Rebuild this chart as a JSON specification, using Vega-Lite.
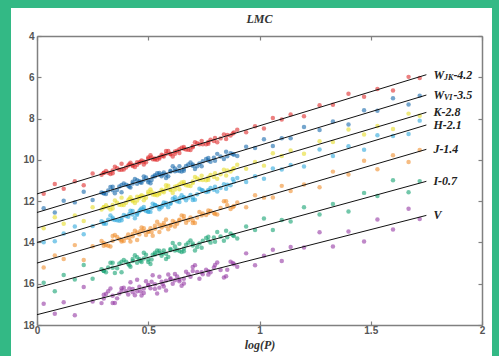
{
"$schema":"https://vega.github.io/schema/vega-lite/v6.json",
"width":481,"height":348,
"autosize":{"type":"none"},
"padding":{"left":11,"top":8,"right":7,"bottom":0},
"background":"#33b985",
"config":{"view":{"fill":"white","stroke":null},
"axis":{"grid":false,"tickSize":-4,"tickColor":"#808080","tickWidth":1.2,"domainColor":"#808080","domainWidth":1.5,"labelFont":"Liberation Sans","labelFontWeight":"bold","labelFontSize":10,"labelColor":"#555555","labelFlush":false,"labelOverlap":false}},
"title":{"text":"LMC","font":"Liberation Serif","fontStyle":"italic","fontWeight":"bold","fontSize":12,"color":"#333333","anchor":"middle","offset":0,"dy":27,"dx":8,"baseline":"alphabetic"},
"datasets":{
"lines":[{"b":"WJK","x":0,"y":11.65},{"b":"WJK","x":1.75,"y":5.875},{"b":"WVI","x":0,"y":12.55},{"b":"WVI","x":1.75,"y":6.86},{"b":"K","x":0,"y":13.3},{"b":"K","x":1.75,"y":7.7},{"b":"H","x":0,"y":14.0},{"b":"H","x":1.75,"y":8.31},{"b":"J","x":0,"y":15.0},{"b":"J","x":1.75,"y":9.49},{"b":"I","x":0,"y":16.2},{"b":"I","x":1.75,"y":11.04},{"b":"V","x":0,"y":17.5},{"b":"V","x":1.75,"y":12.69}],
"labels":[{"b":"WJK","x":1.75,"y":5.875,"t":"W","s":"JK","r":"-4.2"},{"b":"WVI","x":1.75,"y":6.86,"t":"W","s":"VI","r":"-3.5"},{"b":"K","x":1.75,"y":7.7,"t":"K-2.8","s":"","r":""},{"b":"H","x":1.75,"y":8.31,"t":"H-2.1","s":"","r":""},{"b":"J","x":1.75,"y":9.49,"t":"J-1.4","s":"","r":""},{"b":"I","x":1.75,"y":11.04,"t":"I-0.7","s":"","r":""},{"b":"V","x":1.75,"y":12.69,"t":"V","s":"","r":""}],
"pts":[
{"b":"WJK","x":0.03,"y":11.64},{"b":"WJK","x":0.08,"y":11.17},{"b":"WJK","x":0.12,"y":11.40},{"b":"WJK","x":0.17,"y":11.04},{"b":"WJK","x":0.21,"y":11.23},{"b":"WJK","x":0.25,"y":10.66},{"b":"WJK","x":0.29,"y":10.72},{"b":"WJK","x":0.31,"y":10.54},{"b":"WJK","x":0.33,"y":10.69},{"b":"WJK","x":0.35,"y":10.33},{"b":"WJK","x":0.37,"y":10.48},{"b":"WJK","x":0.39,"y":10.47},{"b":"WJK","x":0.41,"y":10.27},{"b":"WJK","x":0.42,"y":10.14},{"b":"WJK","x":0.44,"y":10.35},{"b":"WJK","x":0.46,"y":10.14},{"b":"WJK","x":0.47,"y":10.03},{"b":"WJK","x":0.49,"y":10.12},{"b":"WJK","x":0.51,"y":9.78},{"b":"WJK","x":0.52,"y":9.97},{"b":"WJK","x":0.54,"y":9.99},{"b":"WJK","x":0.56,"y":9.75},{"b":"WJK","x":0.57,"y":9.84},{"b":"WJK","x":0.59,"y":9.57},{"b":"WJK","x":0.61,"y":9.84},{"b":"WJK","x":0.63,"y":9.56},{"b":"WJK","x":0.65,"y":9.41},{"b":"WJK","x":0.67,"y":9.50},{"b":"WJK","x":0.69,"y":9.52},{"b":"WJK","x":0.71,"y":9.15},{"b":"WJK","x":0.73,"y":9.24},{"b":"WJK","x":0.76,"y":9.24},{"b":"WJK","x":0.78,"y":9.02},{"b":"WJK","x":0.81,"y":9.15},{"b":"WJK","x":0.84,"y":8.77},{"b":"WJK","x":0.87,"y":8.82},{"b":"WJK","x":0.90,"y":8.54},{"b":"WJK","x":0.94,"y":8.66},{"b":"WJK","x":0.98,"y":8.37},{"b":"WJK","x":1.02,"y":8.48},{"b":"WJK","x":1.06,"y":7.97},{"b":"WJK","x":1.10,"y":8.04},{"b":"WJK","x":1.14,"y":7.80},{"b":"WJK","x":1.20,"y":7.89},{"b":"WJK","x":1.27,"y":7.35},{"b":"WJK","x":1.33,"y":7.33},{"b":"WJK","x":1.40,"y":6.80},{"b":"WJK","x":1.47,"y":6.94},{"b":"WJK","x":1.53,"y":6.57},{"b":"WJK","x":1.60,"y":6.64},{"b":"WJK","x":1.67,"y":5.98},{"b":"WJK","x":1.72,"y":6.03},{"b":"WJK","x":0.30,"y":10.62},{"b":"WJK","x":0.34,"y":10.65},{"b":"WJK","x":0.38,"y":10.19},{"b":"WJK","x":0.43,"y":10.30},{"b":"WJK","x":0.45,"y":10.11},{"b":"WJK","x":0.48,"y":10.22},{"b":"WJK","x":0.50,"y":9.88},{"b":"WJK","x":0.53,"y":9.93},{"b":"WJK","x":0.55,"y":9.93},{"b":"WJK","x":0.58,"y":9.57},{"b":"WJK","x":0.60,"y":9.73},{"b":"WJK","x":0.62,"y":9.59},{"b":"WJK","x":0.64,"y":9.67},{"b":"WJK","x":0.66,"y":9.38},{"b":"WJK","x":0.70,"y":9.39},{"b":"WJK","x":0.74,"y":9.08},{"b":"WJK","x":0.77,"y":9.22},{"b":"WJK","x":0.80,"y":8.94},{"b":"WJK","x":0.85,"y":8.99},{"b":"WJK","x":0.88,"y":8.72},
{"b":"WJK","x":0.30,"y":10.63},{"b":"WJK","x":0.32,"y":10.62},{"b":"WJK","x":0.34,"y":10.51},{"b":"WJK","x":0.36,"y":10.41},{"b":"WJK","x":0.38,"y":10.48},{"b":"WJK","x":0.40,"y":10.37},{"b":"WJK","x":0.415,"y":10.21},{"b":"WJK","x":0.43,"y":10.25},{"b":"WJK","x":0.45,"y":10.24},{"b":"WJK","x":0.465,"y":10.09},{"b":"WJK","x":0.48,"y":10.08},{"b":"WJK","x":0.50,"y":9.95},{"b":"WJK","x":0.515,"y":9.88},{"b":"WJK","x":0.53,"y":9.98},{"b":"WJK","x":0.55,"y":9.87},{"b":"WJK","x":0.565,"y":9.80},{"b":"WJK","x":0.58,"y":9.71},{"b":"WJK","x":0.60,"y":9.70},{"b":"WJK","x":0.62,"y":9.70},{"b":"WJK","x":0.64,"y":9.49},{"b":"WJK","x":0.66,"y":9.46},{"b":"WJK","x":0.68,"y":9.51},{"b":"WJK","x":0.70,"y":9.34},{"b":"WJK","x":0.72,"y":9.20},{"b":"WJK","x":0.745,"y":9.24},{"b":"WJK","x":0.77,"y":9.13},{"b":"WJK","x":0.795,"y":9.09},{"b":"WJK","x":0.825,"y":8.96},{"b":"WJK","x":0.855,"y":8.80},{"b":"WJK","x":0.885,"y":8.68},
{"b":"WVI","x":0.03,"y":12.34},{"b":"WVI","x":0.08,"y":12.55},{"b":"WVI","x":0.12,"y":11.98},{"b":"WVI","x":0.17,"y":12.06},{"b":"WVI","x":0.21,"y":11.54},{"b":"WVI","x":0.25,"y":11.94},{"b":"WVI","x":0.29,"y":11.58},{"b":"WVI","x":0.31,"y":11.65},{"b":"WVI","x":0.33,"y":11.31},{"b":"WVI","x":0.35,"y":11.62},{"b":"WVI","x":0.37,"y":11.29},{"b":"WVI","x":0.39,"y":11.15},{"b":"WVI","x":0.41,"y":11.25},{"b":"WVI","x":0.42,"y":11.34},{"b":"WVI","x":0.44,"y":10.93},{"b":"WVI","x":0.46,"y":11.04},{"b":"WVI","x":0.47,"y":11.11},{"b":"WVI","x":0.49,"y":10.85},{"b":"WVI","x":0.51,"y":11.13},{"b":"WVI","x":0.52,"y":10.82},{"b":"WVI","x":0.54,"y":10.65},{"b":"WVI","x":0.56,"y":10.79},{"b":"WVI","x":0.57,"y":10.61},{"b":"WVI","x":0.59,"y":10.80},{"b":"WVI","x":0.61,"y":10.31},{"b":"WVI","x":0.63,"y":10.52},{"b":"WVI","x":0.65,"y":10.56},{"b":"WVI","x":0.67,"y":10.30},{"b":"WVI","x":0.69,"y":10.13},{"b":"WVI","x":0.71,"y":10.44},{"b":"WVI","x":0.73,"y":10.18},{"b":"WVI","x":0.76,"y":9.96},{"b":"WVI","x":0.78,"y":10.09},{"b":"WVI","x":0.81,"y":9.71},{"b":"WVI","x":0.84,"y":9.96},{"b":"WVI","x":0.87,"y":9.68},{"b":"WVI","x":0.90,"y":9.81},{"b":"WVI","x":0.94,"y":9.36},{"b":"WVI","x":0.98,"y":9.43},{"b":"WVI","x":1.02,"y":9.00},{"b":"WVI","x":1.06,"y":9.33},{"b":"WVI","x":1.10,"y":8.95},{"b":"WVI","x":1.14,"y":8.95},{"b":"WVI","x":1.20,"y":8.41},{"b":"WVI","x":1.27,"y":8.55},{"b":"WVI","x":1.33,"y":8.14},{"b":"WVI","x":1.40,"y":8.29},{"b":"WVI","x":1.47,"y":7.60},{"b":"WVI","x":1.53,"y":7.62},{"b":"WVI","x":1.60,"y":7.02},{"b":"WVI","x":1.67,"y":7.32},{"b":"WVI","x":1.72,"y":6.89},{"b":"WVI","x":0.30,"y":11.62},{"b":"WVI","x":0.34,"y":11.30},{"b":"WVI","x":0.38,"y":11.57},{"b":"WVI","x":0.43,"y":11.06},{"b":"WVI","x":0.45,"y":11.16},{"b":"WVI","x":0.48,"y":10.80},{"b":"WVI","x":0.50,"y":11.08},{"b":"WVI","x":0.53,"y":10.80},{"b":"WVI","x":0.55,"y":10.64},{"b":"WVI","x":0.58,"y":10.88},{"b":"WVI","x":0.60,"y":10.53},{"b":"WVI","x":0.62,"y":10.55},{"b":"WVI","x":0.64,"y":10.31},{"b":"WVI","x":0.66,"y":10.53},{"b":"WVI","x":0.70,"y":10.22},{"b":"WVI","x":0.74,"y":10.31},{"b":"WVI","x":0.77,"y":9.91},{"b":"WVI","x":0.80,"y":10.04},{"b":"WVI","x":0.85,"y":9.61},{"b":"WVI","x":0.88,"y":9.72},
{"b":"WVI","x":0.30,"y":11.62},{"b":"WVI","x":0.32,"y":11.48},{"b":"WVI","x":0.34,"y":11.47},{"b":"WVI","x":0.36,"y":11.46},{"b":"WVI","x":0.38,"y":11.22},{"b":"WVI","x":0.40,"y":11.20},{"b":"WVI","x":0.415,"y":11.30},{"b":"WVI","x":0.43,"y":11.14},{"b":"WVI","x":0.45,"y":10.99},{"b":"WVI","x":0.465,"y":11.08},{"b":"WVI","x":0.48,"y":10.98},{"b":"WVI","x":0.50,"y":10.99},{"b":"WVI","x":0.515,"y":10.98},{"b":"WVI","x":0.53,"y":10.74},{"b":"WVI","x":0.55,"y":10.72},{"b":"WVI","x":0.565,"y":10.70},{"b":"WVI","x":0.58,"y":10.71},{"b":"WVI","x":0.60,"y":10.56},{"b":"WVI","x":0.62,"y":10.42},{"b":"WVI","x":0.64,"y":10.54},{"b":"WVI","x":0.66,"y":10.43},{"b":"WVI","x":0.68,"y":10.22},{"b":"WVI","x":0.70,"y":10.29},{"b":"WVI","x":0.72,"y":10.31},{"b":"WVI","x":0.745,"y":10.07},{"b":"WVI","x":0.77,"y":10.03},{"b":"WVI","x":0.795,"y":9.90},{"b":"WVI","x":0.825,"y":9.84},{"b":"WVI","x":0.855,"y":9.82},{"b":"WVI","x":0.885,"y":9.75},
{"b":"K","x":0.03,"y":13.31},{"b":"K","x":0.08,"y":12.78},{"b":"K","x":0.12,"y":13.09},{"b":"K","x":0.17,"y":12.69},{"b":"K","x":0.21,"y":12.96},{"b":"K","x":0.25,"y":12.30},{"b":"K","x":0.29,"y":12.40},{"b":"K","x":0.31,"y":12.20},{"b":"K","x":0.33,"y":12.41},{"b":"K","x":0.35,"y":11.97},{"b":"K","x":0.37,"y":12.18},{"b":"K","x":0.39,"y":12.19},{"b":"K","x":0.41,"y":11.96},{"b":"K","x":0.42,"y":11.81},{"b":"K","x":0.44,"y":12.09},{"b":"K","x":0.46,"y":11.84},{"b":"K","x":0.47,"y":11.71},{"b":"K","x":0.49,"y":11.84},{"b":"K","x":0.51,"y":11.43},{"b":"K","x":0.52,"y":11.68},{"b":"K","x":0.54,"y":11.72},{"b":"K","x":0.56,"y":11.45},{"b":"K","x":0.57,"y":11.57},{"b":"K","x":0.59,"y":11.25},{"b":"K","x":0.61,"y":11.60},{"b":"K","x":0.63,"y":11.27},{"b":"K","x":0.65,"y":11.10},{"b":"K","x":0.67,"y":11.23},{"b":"K","x":0.69,"y":11.27},{"b":"K","x":0.71,"y":10.83},{"b":"K","x":0.73,"y":10.96},{"b":"K","x":0.76,"y":10.99},{"b":"K","x":0.78,"y":10.73},{"b":"K","x":0.81,"y":10.92},{"b":"K","x":0.84,"y":10.48},{"b":"K","x":0.87,"y":10.56},{"b":"K","x":0.90,"y":10.24},{"b":"K","x":0.94,"y":10.43},{"b":"K","x":0.98,"y":10.10},{"b":"K","x":1.02,"y":10.28},{"b":"K","x":1.06,"y":9.68},{"b":"K","x":1.10,"y":9.81},{"b":"K","x":1.14,"y":9.55},{"b":"K","x":1.20,"y":9.70},{"b":"K","x":1.27,"y":9.10},{"b":"K","x":1.33,"y":9.13},{"b":"K","x":1.40,"y":8.53},{"b":"K","x":1.47,"y":8.77},{"b":"K","x":1.53,"y":8.36},{"b":"K","x":1.60,"y":8.51},{"b":"K","x":1.67,"y":7.76},{"b":"K","x":1.72,"y":7.86},{"b":"K","x":0.30,"y":12.30},{"b":"K","x":0.34,"y":12.36},{"b":"K","x":0.38,"y":11.83},{"b":"K","x":0.43,"y":12.01},{"b":"K","x":0.45,"y":11.79},{"b":"K","x":0.48,"y":11.96},{"b":"K","x":0.50,"y":11.55},{"b":"K","x":0.53,"y":11.63},{"b":"K","x":0.55,"y":11.66},{"b":"K","x":0.58,"y":11.23},{"b":"K","x":0.60,"y":11.46},{"b":"K","x":0.62,"y":11.30},{"b":"K","x":0.64,"y":11.42},{"b":"K","x":0.66,"y":11.07},{"b":"K","x":0.70,"y":11.12},{"b":"K","x":0.74,"y":10.77},{"b":"K","x":0.77,"y":10.97},{"b":"K","x":0.80,"y":10.65},{"b":"K","x":0.85,"y":10.76},{"b":"K","x":0.88,"y":10.45},
{"b":"K","x":0.30,"y":12.30},{"b":"K","x":0.32,"y":12.31},{"b":"K","x":0.34,"y":12.19},{"b":"K","x":0.36,"y":12.08},{"b":"K","x":0.38,"y":12.19},{"b":"K","x":0.40,"y":12.08},{"b":"K","x":0.415,"y":11.89},{"b":"K","x":0.43,"y":11.95},{"b":"K","x":0.45,"y":11.97},{"b":"K","x":0.465,"y":11.78},{"b":"K","x":0.48,"y":11.78},{"b":"K","x":0.50,"y":11.64},{"b":"K","x":0.515,"y":11.56},{"b":"K","x":0.53,"y":11.70},{"b":"K","x":0.55,"y":11.59},{"b":"K","x":0.565,"y":11.51},{"b":"K","x":0.58,"y":11.41},{"b":"K","x":0.60,"y":11.43},{"b":"K","x":0.62,"y":11.44},{"b":"K","x":0.64,"y":11.19},{"b":"K","x":0.66,"y":11.17},{"b":"K","x":0.68,"y":11.25},{"b":"K","x":0.70,"y":11.05},{"b":"K","x":0.72,"y":10.90},{"b":"K","x":0.745,"y":10.98},{"b":"K","x":0.77,"y":10.86},{"b":"K","x":0.795,"y":10.83},{"b":"K","x":0.825,"y":10.70},{"b":"K","x":0.855,"y":10.52},{"b":"K","x":0.885,"y":10.40},
{"b":"H","x":0.03,"y":13.99},{"b":"H","x":0.08,"y":13.94},{"b":"H","x":0.12,"y":13.57},{"b":"H","x":0.17,"y":13.23},{"b":"H","x":0.21,"y":13.60},{"b":"H","x":0.25,"y":13.21},{"b":"H","x":0.29,"y":12.97},{"b":"H","x":0.31,"y":13.10},{"b":"H","x":0.33,"y":12.69},{"b":"H","x":0.35,"y":12.91},{"b":"H","x":0.37,"y":12.95},{"b":"H","x":0.39,"y":12.67},{"b":"H","x":0.41,"y":12.76},{"b":"H","x":0.42,"y":12.47},{"b":"H","x":0.44,"y":12.83},{"b":"H","x":0.46,"y":12.49},{"b":"H","x":0.47,"y":12.35},{"b":"H","x":0.49,"y":12.48},{"b":"H","x":0.51,"y":12.52},{"b":"H","x":0.52,"y":12.12},{"b":"H","x":0.54,"y":12.25},{"b":"H","x":0.56,"y":12.30},{"b":"H","x":0.57,"y":12.07},{"b":"H","x":0.59,"y":12.29},{"b":"H","x":0.61,"y":11.88},{"b":"H","x":0.63,"y":12.00},{"b":"H","x":0.65,"y":11.71},{"b":"H","x":0.67,"y":11.96},{"b":"H","x":0.69,"y":11.70},{"b":"H","x":0.71,"y":11.93},{"b":"H","x":0.73,"y":11.40},{"b":"H","x":0.76,"y":11.56},{"b":"H","x":0.78,"y":11.36},{"b":"H","x":0.81,"y":11.53},{"b":"H","x":0.84,"y":11.18},{"b":"H","x":0.87,"y":11.23},{"b":"H","x":0.90,"y":10.88},{"b":"H","x":0.94,"y":11.07},{"b":"H","x":0.98,"y":10.79},{"b":"H","x":1.02,"y":10.91},{"b":"H","x":1.06,"y":10.42},{"b":"H","x":1.10,"y":10.47},{"b":"H","x":1.14,"y":10.25},{"b":"H","x":1.20,"y":10.32},{"b":"H","x":1.27,"y":9.50},{"b":"H","x":1.33,"y":9.81},{"b":"H","x":1.40,"y":9.34},{"b":"H","x":1.47,"y":9.51},{"b":"H","x":1.53,"y":8.81},{"b":"H","x":1.60,"y":8.84},{"b":"H","x":1.67,"y":8.75},{"b":"H","x":1.72,"y":8.10},{"b":"H","x":0.30,"y":13.10},{"b":"H","x":0.34,"y":12.88},{"b":"H","x":0.38,"y":12.93},{"b":"H","x":0.43,"y":12.48},{"b":"H","x":0.45,"y":12.60},{"b":"H","x":0.48,"y":12.28},{"b":"H","x":0.50,"y":12.51},{"b":"H","x":0.53,"y":12.19},{"b":"H","x":0.55,"y":12.39},{"b":"H","x":0.58,"y":12.09},{"b":"H","x":0.60,"y":12.13},{"b":"H","x":0.62,"y":11.81},{"b":"H","x":0.64,"y":12.04},{"b":"H","x":0.66,"y":11.81},{"b":"H","x":0.70,"y":11.95},{"b":"H","x":0.74,"y":11.46},{"b":"H","x":0.77,"y":11.53},{"b":"H","x":0.80,"y":11.30},{"b":"H","x":0.85,"y":11.40},{"b":"H","x":0.88,"y":10.93},
{"b":"H","x":0.30,"y":13.04},{"b":"H","x":0.32,"y":12.90},{"b":"H","x":0.34,"y":12.80},{"b":"H","x":0.36,"y":12.93},{"b":"H","x":0.38,"y":12.81},{"b":"H","x":0.40,"y":12.72},{"b":"H","x":0.415,"y":12.62},{"b":"H","x":0.43,"y":12.65},{"b":"H","x":0.45,"y":12.66},{"b":"H","x":0.465,"y":12.42},{"b":"H","x":0.48,"y":12.42},{"b":"H","x":0.50,"y":12.50},{"b":"H","x":0.515,"y":12.32},{"b":"H","x":0.53,"y":12.19},{"b":"H","x":0.55,"y":12.28},{"b":"H","x":0.565,"y":12.19},{"b":"H","x":0.58,"y":12.18},{"b":"H","x":0.60,"y":12.09},{"b":"H","x":0.62,"y":11.94},{"b":"H","x":0.64,"y":11.86},{"b":"H","x":0.66,"y":11.84},{"b":"H","x":0.68,"y":11.83},{"b":"H","x":0.70,"y":11.82},{"b":"H","x":0.72,"y":11.67},{"b":"H","x":0.745,"y":11.48},{"b":"H","x":0.77,"y":11.46},{"b":"H","x":0.795,"y":11.45},{"b":"H","x":0.825,"y":11.36},{"b":"H","x":0.855,"y":11.21},{"b":"H","x":0.885,"y":11.06},
{"b":"J","x":0.03,"y":15.21},{"b":"J","x":0.08,"y":14.63},{"b":"J","x":0.12,"y":14.80},{"b":"J","x":0.17,"y":14.13},{"b":"J","x":0.21,"y":14.85},{"b":"J","x":0.25,"y":14.18},{"b":"J","x":0.29,"y":13.93},{"b":"J","x":0.31,"y":14.12},{"b":"J","x":0.33,"y":14.20},{"b":"J","x":0.35,"y":13.64},{"b":"J","x":0.37,"y":13.83},{"b":"J","x":0.39,"y":13.93},{"b":"J","x":0.41,"y":13.61},{"b":"J","x":0.42,"y":13.96},{"b":"J","x":0.44,"y":13.43},{"b":"J","x":0.46,"y":13.61},{"b":"J","x":0.47,"y":13.28},{"b":"J","x":0.49,"y":13.64},{"b":"J","x":0.51,"y":13.31},{"b":"J","x":0.52,"y":13.68},{"b":"J","x":0.54,"y":13.00},{"b":"J","x":0.56,"y":13.28},{"b":"J","x":0.57,"y":13.06},{"b":"J","x":0.59,"y":13.36},{"b":"J","x":0.61,"y":12.96},{"b":"J","x":0.63,"y":13.10},{"b":"J","x":0.65,"y":12.69},{"b":"J","x":0.67,"y":13.05},{"b":"J","x":0.69,"y":12.79},{"b":"J","x":0.71,"y":13.06},{"b":"J","x":0.73,"y":12.52},{"b":"J","x":0.76,"y":12.67},{"b":"J","x":0.78,"y":12.48},{"b":"J","x":0.81,"y":12.65},{"b":"J","x":0.84,"y":12.01},{"b":"J","x":0.87,"y":12.38},{"b":"J","x":0.90,"y":12.07},{"b":"J","x":0.94,"y":12.30},{"b":"J","x":0.98,"y":11.71},{"b":"J","x":1.02,"y":11.83},{"b":"J","x":1.06,"y":11.82},{"b":"J","x":1.10,"y":11.26},{"b":"J","x":1.14,"y":11.51},{"b":"J","x":1.20,"y":11.19},{"b":"J","x":1.27,"y":11.33},{"b":"J","x":1.33,"y":10.57},{"b":"J","x":1.40,"y":10.71},{"b":"J","x":1.47,"y":10.04},{"b":"J","x":1.53,"y":10.45},{"b":"J","x":1.60,"y":9.78},{"b":"J","x":1.67,"y":10.10},{"b":"J","x":1.72,"y":9.52},{"b":"J","x":0.30,"y":14.16},{"b":"J","x":0.34,"y":13.69},{"b":"J","x":0.38,"y":13.96},{"b":"J","x":0.43,"y":13.59},{"b":"J","x":0.45,"y":13.88},{"b":"J","x":0.48,"y":13.31},{"b":"J","x":0.50,"y":13.47},{"b":"J","x":0.53,"y":13.19},{"b":"J","x":0.55,"y":13.49},{"b":"J","x":0.58,"y":12.89},{"b":"J","x":0.60,"y":13.19},{"b":"J","x":0.62,"y":13.23},{"b":"J","x":0.64,"y":12.94},{"b":"J","x":0.66,"y":12.72},{"b":"J","x":0.70,"y":13.06},{"b":"J","x":0.74,"y":12.69},{"b":"J","x":0.77,"y":12.45},{"b":"J","x":0.80,"y":12.62},{"b":"J","x":0.85,"y":12.00},{"b":"J","x":0.88,"y":12.29},
{"b":"J","x":0.30,"y":14.03},{"b":"J","x":0.32,"y":14.16},{"b":"J","x":0.34,"y":13.92},{"b":"J","x":0.36,"y":13.74},{"b":"J","x":0.38,"y":13.88},{"b":"J","x":0.40,"y":13.77},{"b":"J","x":0.415,"y":13.79},{"b":"J","x":0.43,"y":13.70},{"b":"J","x":0.45,"y":13.52},{"b":"J","x":0.465,"y":13.45},{"b":"J","x":0.48,"y":13.46},{"b":"J","x":0.50,"y":13.48},{"b":"J","x":0.515,"y":13.50},{"b":"J","x":0.53,"y":13.34},{"b":"J","x":0.55,"y":13.14},{"b":"J","x":0.565,"y":13.17},{"b":"J","x":0.58,"y":13.21},{"b":"J","x":0.60,"y":13.16},{"b":"J","x":0.62,"y":13.03},{"b":"J","x":0.64,"y":12.90},{"b":"J","x":0.66,"y":12.87},{"b":"J","x":0.68,"y":12.92},{"b":"J","x":0.70,"y":12.93},{"b":"J","x":0.72,"y":12.79},{"b":"J","x":0.745,"y":12.60},{"b":"J","x":0.77,"y":12.58},{"b":"J","x":0.795,"y":12.57},{"b":"J","x":0.825,"y":12.33},{"b":"J","x":0.855,"y":12.20},{"b":"J","x":0.885,"y":12.23},
{"b":"I","x":0.03,"y":15.95},{"b":"I","x":0.08,"y":16.36},{"b":"I","x":0.12,"y":15.58},{"b":"I","x":0.17,"y":15.80},{"b":"I","x":0.21,"y":15.09},{"b":"I","x":0.25,"y":15.76},{"b":"I","x":0.29,"y":15.30},{"b":"I","x":0.31,"y":15.44},{"b":"I","x":0.33,"y":14.98},{"b":"I","x":0.35,"y":15.48},{"b":"I","x":0.37,"y":15.02},{"b":"I","x":0.39,"y":14.85},{"b":"I","x":0.41,"y":15.03},{"b":"I","x":0.42,"y":15.18},{"b":"I","x":0.44,"y":14.62},{"b":"I","x":0.46,"y":14.82},{"b":"I","x":0.47,"y":14.95},{"b":"I","x":0.49,"y":14.60},{"b":"I","x":0.51,"y":15.05},{"b":"I","x":0.52,"y":14.60},{"b":"I","x":0.54,"y":14.39},{"b":"I","x":0.56,"y":14.64},{"b":"I","x":0.57,"y":14.39},{"b":"I","x":0.59,"y":14.70},{"b":"I","x":0.61,"y":14.03},{"b":"I","x":0.63,"y":14.36},{"b":"I","x":0.65,"y":14.46},{"b":"I","x":0.67,"y":14.11},{"b":"I","x":0.69,"y":13.90},{"b":"I","x":0.71,"y":14.39},{"b":"I","x":0.73,"y":14.05},{"b":"I","x":0.76,"y":13.78},{"b":"I","x":0.78,"y":14.01},{"b":"I","x":0.81,"y":13.50},{"b":"I","x":0.84,"y":13.92},{"b":"I","x":0.87,"y":13.57},{"b":"I","x":0.90,"y":13.81},{"b":"I","x":0.94,"y":13.23},{"b":"I","x":0.98,"y":13.40},{"b":"I","x":1.02,"y":12.84},{"b":"I","x":1.06,"y":13.40},{"b":"I","x":1.10,"y":12.91},{"b":"I","x":1.14,"y":12.99},{"b":"I","x":1.20,"y":12.30},{"b":"I","x":1.27,"y":12.65},{"b":"I","x":1.33,"y":12.14},{"b":"I","x":1.40,"y":12.50},{"b":"I","x":1.47,"y":11.60},{"b":"I","x":1.53,"y":11.75},{"b":"I","x":1.60,"y":10.99},{"b":"I","x":1.67,"y":11.57},{"b":"I","x":1.72,"y":11.03},{"b":"I","x":0.30,"y":15.38},{"b":"I","x":0.34,"y":14.98},{"b":"I","x":0.38,"y":15.45},{"b":"I","x":0.43,"y":14.80},{"b":"I","x":0.45,"y":14.98},{"b":"I","x":0.48,"y":14.50},{"b":"I","x":0.50,"y":14.95},{"b":"I","x":0.53,"y":14.59},{"b":"I","x":0.55,"y":14.40},{"b":"I","x":0.58,"y":14.80},{"b":"I","x":0.60,"y":14.32},{"b":"I","x":0.62,"y":14.39},{"b":"I","x":0.64,"y":14.07},{"b":"I","x":0.66,"y":14.43},{"b":"I","x":0.70,"y":14.05},{"b":"I","x":0.74,"y":14.26},{"b":"I","x":0.77,"y":13.73},{"b":"I","x":0.80,"y":13.97},{"b":"I","x":0.85,"y":13.43},{"b":"I","x":0.88,"y":13.65},
{"b":"I","x":0.30,"y":15.37},{"b":"I","x":0.32,"y":15.21},{"b":"I","x":0.34,"y":15.23},{"b":"I","x":0.36,"y":15.25},{"b":"I","x":0.38,"y":14.94},{"b":"I","x":0.40,"y":14.94},{"b":"I","x":0.415,"y":15.11},{"b":"I","x":0.43,"y":14.90},{"b":"I","x":0.45,"y":14.72},{"b":"I","x":0.465,"y":14.89},{"b":"I","x":0.48,"y":14.78},{"b":"I","x":0.50,"y":14.83},{"b":"I","x":0.515,"y":14.83},{"b":"I","x":0.53,"y":14.50},{"b":"I","x":0.55,"y":14.52},{"b":"I","x":0.565,"y":14.52},{"b":"I","x":0.58,"y":14.55},{"b":"I","x":0.60,"y":14.37},{"b":"I","x":0.62,"y":14.20},{"b":"I","x":0.64,"y":14.41},{"b":"I","x":0.66,"y":14.29},{"b":"I","x":0.68,"y":14.01},{"b":"I","x":0.70,"y":14.15},{"b":"I","x":0.72,"y":14.22},{"b":"I","x":0.745,"y":13.92},{"b":"I","x":0.77,"y":13.90},{"b":"I","x":0.795,"y":13.76},{"b":"I","x":0.825,"y":13.71},{"b":"I","x":0.855,"y":13.75},{"b":"I","x":0.885,"y":13.69},
{"b":"V","x":0.03,"y":16.97},{"b":"V","x":0.08,"y":17.46},{"b":"V","x":0.12,"y":16.90},{"b":"V","x":0.17,"y":17.53},{"b":"V","x":0.21,"y":16.16},{"b":"V","x":0.25,"y":16.86},{"b":"V","x":0.29,"y":16.94},{"b":"V","x":0.31,"y":16.50},{"b":"V","x":0.33,"y":16.23},{"b":"V","x":0.35,"y":16.93},{"b":"V","x":0.37,"y":16.48},{"b":"V","x":0.39,"y":16.19},{"b":"V","x":0.41,"y":16.52},{"b":"V","x":0.42,"y":15.93},{"b":"V","x":0.44,"y":16.56},{"b":"V","x":0.46,"y":16.15},{"b":"V","x":0.47,"y":16.57},{"b":"V","x":0.49,"y":15.88},{"b":"V","x":0.51,"y":16.22},{"b":"V","x":0.52,"y":15.59},{"b":"V","x":0.54,"y":16.47},{"b":"V","x":0.56,"y":15.90},{"b":"V","x":0.57,"y":16.14},{"b":"V","x":0.59,"y":15.55},{"b":"V","x":0.61,"y":16.00},{"b":"V","x":0.63,"y":15.65},{"b":"V","x":0.65,"y":16.10},{"b":"V","x":0.67,"y":15.42},{"b":"V","x":0.69,"y":15.66},{"b":"V","x":0.71,"y":15.10},{"b":"V","x":0.73,"y":15.76},{"b":"V","x":0.76,"y":15.32},{"b":"V","x":0.78,"y":15.45},{"b":"V","x":0.81,"y":14.97},{"b":"V","x":0.84,"y":15.70},{"b":"V","x":0.87,"y":14.93},{"b":"V","x":0.90,"y":15.18},{"b":"V","x":0.94,"y":14.53},{"b":"V","x":0.98,"y":15.11},{"b":"V","x":1.02,"y":14.64},{"b":"V","x":1.06,"y":14.35},{"b":"V","x":1.10,"y":14.90},{"b":"V","x":1.14,"y":14.22},{"b":"V","x":1.20,"y":14.25},{"b":"V","x":1.27,"y":13.51},{"b":"V","x":1.33,"y":14.20},{"b":"V","x":1.40,"y":13.47},{"b":"V","x":1.47,"y":13.95},{"b":"V","x":1.53,"y":12.89},{"b":"V","x":1.60,"y":13.37},{"b":"V","x":1.67,"y":12.37},{"b":"V","x":1.72,"y":12.86},{"b":"V","x":0.30,"y":16.53},{"b":"V","x":0.34,"y":16.93},{"b":"V","x":0.38,"y":16.22},{"b":"V","x":0.43,"y":16.41},{"b":"V","x":0.45,"y":15.81},{"b":"V","x":0.48,"y":16.45},{"b":"V","x":0.50,"y":16.07},{"b":"V","x":0.53,"y":16.25},{"b":"V","x":0.55,"y":15.66},{"b":"V","x":0.58,"y":16.33},{"b":"V","x":0.60,"y":15.73},{"b":"V","x":0.62,"y":15.53},{"b":"V","x":0.64,"y":15.80},{"b":"V","x":0.66,"y":15.99},{"b":"V","x":0.70,"y":15.19},{"b":"V","x":0.74,"y":15.44},{"b":"V","x":0.77,"y":15.56},{"b":"V","x":0.80,"y":15.09},{"b":"V","x":0.85,"y":15.64},{"b":"V","x":0.88,"y":14.99},
{"b":"V","x":0.30,"y":16.72},{"b":"V","x":0.32,"y":16.37},{"b":"V","x":0.34,"y":16.58},{"b":"V","x":0.36,"y":16.71},{"b":"V","x":0.38,"y":16.34},{"b":"V","x":0.40,"y":16.36},{"b":"V","x":0.415,"y":16.23},{"b":"V","x":0.43,"y":16.25},{"b":"V","x":0.45,"y":16.36},{"b":"V","x":0.465,"y":16.36},{"b":"V","x":0.48,"y":16.23},{"b":"V","x":0.50,"y":16.05},{"b":"V","x":0.515,"y":15.91},{"b":"V","x":0.53,"y":16.03},{"b":"V","x":0.55,"y":16.19},{"b":"V","x":0.565,"y":16.02},{"b":"V","x":0.58,"y":15.85},{"b":"V","x":0.60,"y":15.78},{"b":"V","x":0.62,"y":15.83},{"b":"V","x":0.64,"y":15.88},{"b":"V","x":0.66,"y":15.76},{"b":"V","x":0.68,"y":15.54},{"b":"V","x":0.70,"y":15.38},{"b":"V","x":0.72,"y":15.43},{"b":"V","x":0.745,"y":15.54},{"b":"V","x":0.77,"y":15.39},{"b":"V","x":0.795,"y":15.21},{"b":"V","x":0.825,"y":15.34},{"b":"V","x":0.855,"y":15.32},{"b":"V","x":0.885,"y":15.06}
]},
"layer":[
{"data":{"name":"pts"},
 "mark":{"type":"circle","size":20,"opacity":0.6},
 "encoding":{
  "x":{"field":"x","type":"quantitative","scale":{"domain":[0,2],"range":[26,471]},
       "axis":{"orient":"bottom","offset":-31,"values":[0,0.5,1,1.5,2],"labelExpr":"''+datum.value","labelPadding":4,"title":"log(P)","titleFont":"Liberation Serif","titleFontStyle":"italic","titleFontWeight":"bold","titleFontSize":12,"titleColor":"#333333","titlePadding":4}},
  "y":{"field":"y","type":"quantitative","scale":{"domain":[4,18],"range":[28,317]},
       "axis":{"orient":"left","offset":-26,"values":[4,6,8,10,12,14,16,18],"labelPadding":7,"title":null}},
  "color":{"field":"b","type":"nominal","scale":{"domain":["WJK","WVI","K","H","J","I","V"],"range":["#e02b2b","#1769ac","#e6dc2a","#2ea9dc","#f0902e","#14a271","#9539a3"]},"legend":null}}},
{"data":{"name":"lines"},
 "mark":{"type":"line","color":"#111111","strokeWidth":1},
 "encoding":{
  "x":{"field":"x","type":"quantitative","scale":{"domain":[0,2],"range":[26,471]},
       "axis":{"orient":"top","offset":-28,"values":[0,0.5,1,1.5,2],"labels":false,"title":null}},
  "y":{"field":"y","type":"quantitative","scale":{"domain":[4,18],"range":[28,317]},
       "axis":{"orient":"right","offset":-10,"values":[4,6,8,10,12,14,16,18],"labels":false,"title":null}},
  "detail":{"field":"b"}}},
{"data":{"name":"labels"},
 "mark":{"type":"text","align":"left","baseline":"middle","dx":7,"font":"Liberation Serif","fontStyle":"italic","fontWeight":"bold","fontSize":12,"color":"#222222"},
 "encoding":{"x":{"field":"x","type":"quantitative","axis":null},"y":{"field":"y","type":"quantitative","axis":null},"text":{"field":"t"}}},
{"data":{"name":"labels"},
 "mark":{"type":"text","align":"left","baseline":"middle","dx":17.5,"dy":3,"font":"Liberation Serif","fontStyle":"italic","fontWeight":"bold","fontSize":8,"color":"#222222"},
 "encoding":{"x":{"field":"x","type":"quantitative","axis":null},"y":{"field":"y","type":"quantitative","axis":null},"text":{"field":"s"}}},
{"data":{"name":"labels"},
 "mark":{"type":"text","align":"left","baseline":"middle","dx":27,"font":"Liberation Serif","fontStyle":"italic","fontWeight":"bold","fontSize":12,"color":"#222222"},
 "encoding":{"x":{"field":"x","type":"quantitative","axis":null},"y":{"field":"y","type":"quantitative","axis":null},"text":{"field":"r"}}}
],
"resolve":{"axis":{"x":"independent","y":"independent"}}
}
